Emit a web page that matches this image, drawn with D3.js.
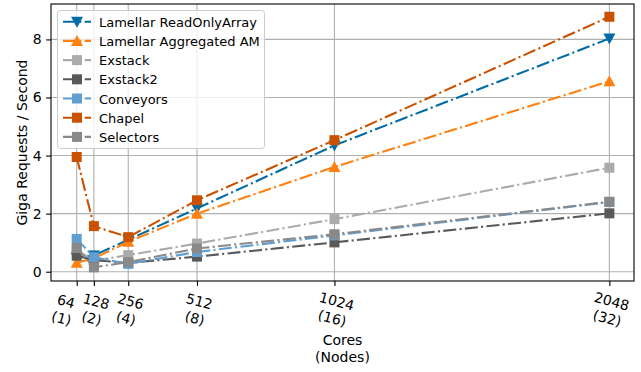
<!DOCTYPE html>
<html>
<head>
<meta charset="utf-8">
<script src="https://d3js.org/d3.v7.min.js"></script>
<style>
body { margin: 0; background: #fff; }
svg { font-family: "DejaVu Sans", sans-serif; }
</style>
</head>
<body>
<svg id="chart" width="641" height="372"></svg>
<script>
// x ticks: cores and (nodes)
var cores = [64, 128, 256, 512, 1024, 2048];
var nodes = [1, 2, 4, 8, 16, 32];
var yTicks = [0, 2, 4, 6, 8];

// giga requests / second
var readOnlyArray = [0.48, 0.56, 1.1, 2.18, 4.35, 8.03];
var aggregatedAM  = [0.31, 0.46, 1.03, 2.0, 3.61, 6.56];
var exstack       = [0.75, 0.38, 0.57, 0.97, 1.81, 3.58];
var exstack2      = [0.55, 0.4, 0.3, 0.52, 1.01, 2.01];
var conveyors     = [1.13, 0.5, 0.27, 0.68, 1.25, 2.4];
var chapel        = [3.95, 1.57, 1.19, 2.46, 4.53, 8.78];
var selectors     = [0.82, 0.15, 0.33, 0.8, 1.29, 2.41];

var seriesNames = ["Lamellar ReadOnlyArray", "Lamellar Aggregated AM", "Exstack", "Exstack2", "Conveyors", "Chapel", "Selectors"];
var seriesValues = [readOnlyArray, aggregatedAM, exstack, exstack2, conveyors, chapel, selectors];
var seriesColors = ["#006BA4", "#FF800E", "#ABABAB", "#595959", "#5F9ED1", "#C85200", "#898989"];
var seriesMarkers = ["down", "up", "square", "square", "square", "square", "square"];

// plot box (note: "top" is taken by window.top, so prefixed names)
var pL = 51, pR = 634, pT = 4, pB = 281;
var fs = 13;

var svg = d3.select("#chart");

var x = d3.scaleLinear().domain([-31.7, 2139.7]).range([pL, pR]);
var y = d3.scaleLinear().domain([-0.32, 9.22]).range([pB, pT]);

// grid
var grid = svg.append("g");
grid.selectAll(".gx").data(cores).enter().append("line")
  .attr("x1", function(d) { return x(d); }).attr("x2", function(d) { return x(d); })
  .attr("y1", pT).attr("y2", pB)
  .attr("stroke", "#b0b0b0").attr("stroke-width", 1.1);
grid.selectAll(".gy").data(yTicks).enter().append("line")
  .attr("y1", function(d) { return y(d); }).attr("y2", function(d) { return y(d); })
  .attr("x1", pL).attr("x2", pR)
  .attr("stroke", "#b0b0b0").attr("stroke-width", 1.1);

// y axis
var yAxis = svg.append("g")
  .attr("transform", "translate(" + pL + ",0)")
  .call(d3.axisLeft(y).tickValues(yTicks).tickSize(4.9).tickPadding(4.5).tickFormat(d3.format("d")));
yAxis.select(".domain").remove();
yAxis.selectAll("line").attr("stroke", "#000").attr("stroke-width", 1.1);
yAxis.selectAll("text").attr("font-size", 14).attr("font-family", "DejaVu Sans").attr("fill", "#000");

// x axis ticks
var xAxis = svg.append("g")
  .attr("transform", "translate(0," + pB + ")")
  .call(d3.axisBottom(x).tickValues(cores).tickSize(4.9).tickFormat(""));
xAxis.select(".domain").remove();
xAxis.selectAll("line").attr("stroke", "#000").attr("stroke-width", 1.1);

// rotated two-line tick labels
var lab = svg.append("g").selectAll("g").data(cores).enter().append("g")
  .attr("transform", function(d, i) {
    var dx = i === 0 ? -13 : 0;
    return "translate(" + (x(d) + dx) + ",310) rotate(15)";
  });
lab.append("text").attr("text-anchor", "middle").attr("y", -4)
  .attr("font-size", 14).text(function(d) { return d; });
lab.append("text").attr("text-anchor", "middle").attr("y", 13.5)
  .attr("font-size", 14).text(function(d, i) { return "(" + nodes[i] + ")"; });

// spines
svg.append("rect").attr("x", pL).attr("y", pT)
  .attr("width", pR - pL).attr("height", pB - pT)
  .attr("fill", "none").attr("stroke", "#000").attr("stroke-width", 1.1);

// axis labels
svg.append("text").attr("x", (pL + pR) / 2).attr("y", 345)
  .attr("text-anchor", "middle").attr("font-size", 14).text("Cores");
svg.append("text").attr("x", (pL + pR) / 2).attr("y", 362)
  .attr("text-anchor", "middle").attr("font-size", 14).text("(Nodes)");
svg.append("text")
  .attr("transform", "translate(27," + ((pT + pB) / 2) + ") rotate(-90)")
  .attr("text-anchor", "middle").attr("font-size", 14).text("Giga Requests / Second");

function drawMarker(g, kind, cx, cy, color) {
  if (kind === "square") {
    g.append("rect").attr("x", cx - 5).attr("y", cy - 5).attr("width", 10).attr("height", 10)
      .attr("fill", color);
  } else {
    var s = kind === "down" ? 1 : -1;
    var pts = [[cx - 6, cy - 5 * s], [cx + 6, cy - 5 * s], [cx, cy + 6 * s]];
    g.append("path").attr("d", "M" + pts.join("L") + "Z").attr("fill", color);
  }
}

var dash = "13,3.3,2.1,3.3";
var line = d3.line().x(function(d, i) { return x(cores[i]); }).y(function(d) { return y(d); });

var plot = svg.append("g");
seriesValues.forEach(function(vals, k) {
  var g = plot.append("g");
  g.append("path").datum(vals).attr("d", line)
    .attr("fill", "none").attr("stroke", seriesColors[k]).attr("stroke-width", 2.1)
    .attr("stroke-dasharray", dash);
  vals.forEach(function(v, i) {
    drawMarker(g, seriesMarkers[k], x(cores[i]), y(v), seriesColors[k]);
  });
});

// legend
var leg = svg.append("g");
leg.append("rect").attr("x", 57.5).attr("y", 10.5).attr("width", 207).attr("height", 138)
  .attr("rx", 3).attr("fill", "#fff").attr("fill-opacity", 0.8)
  .attr("stroke", "#cccccc").attr("stroke-width", 1);
seriesNames.forEach(function(name, k) {
  var ly = 21.7 + k * 19.2;
  leg.append("line").attr("x1", 63).attr("x2", 91).attr("y1", ly).attr("y2", ly)
    .attr("stroke", seriesColors[k]).attr("stroke-width", 2.1).attr("stroke-dasharray", dash);
  drawMarker(leg, seriesMarkers[k], 77, ly, seriesColors[k]);
  leg.append("text").attr("x", 99).attr("y", ly + 5).attr("font-size", fs).text(name);
});
</script>
</body>
</html>
